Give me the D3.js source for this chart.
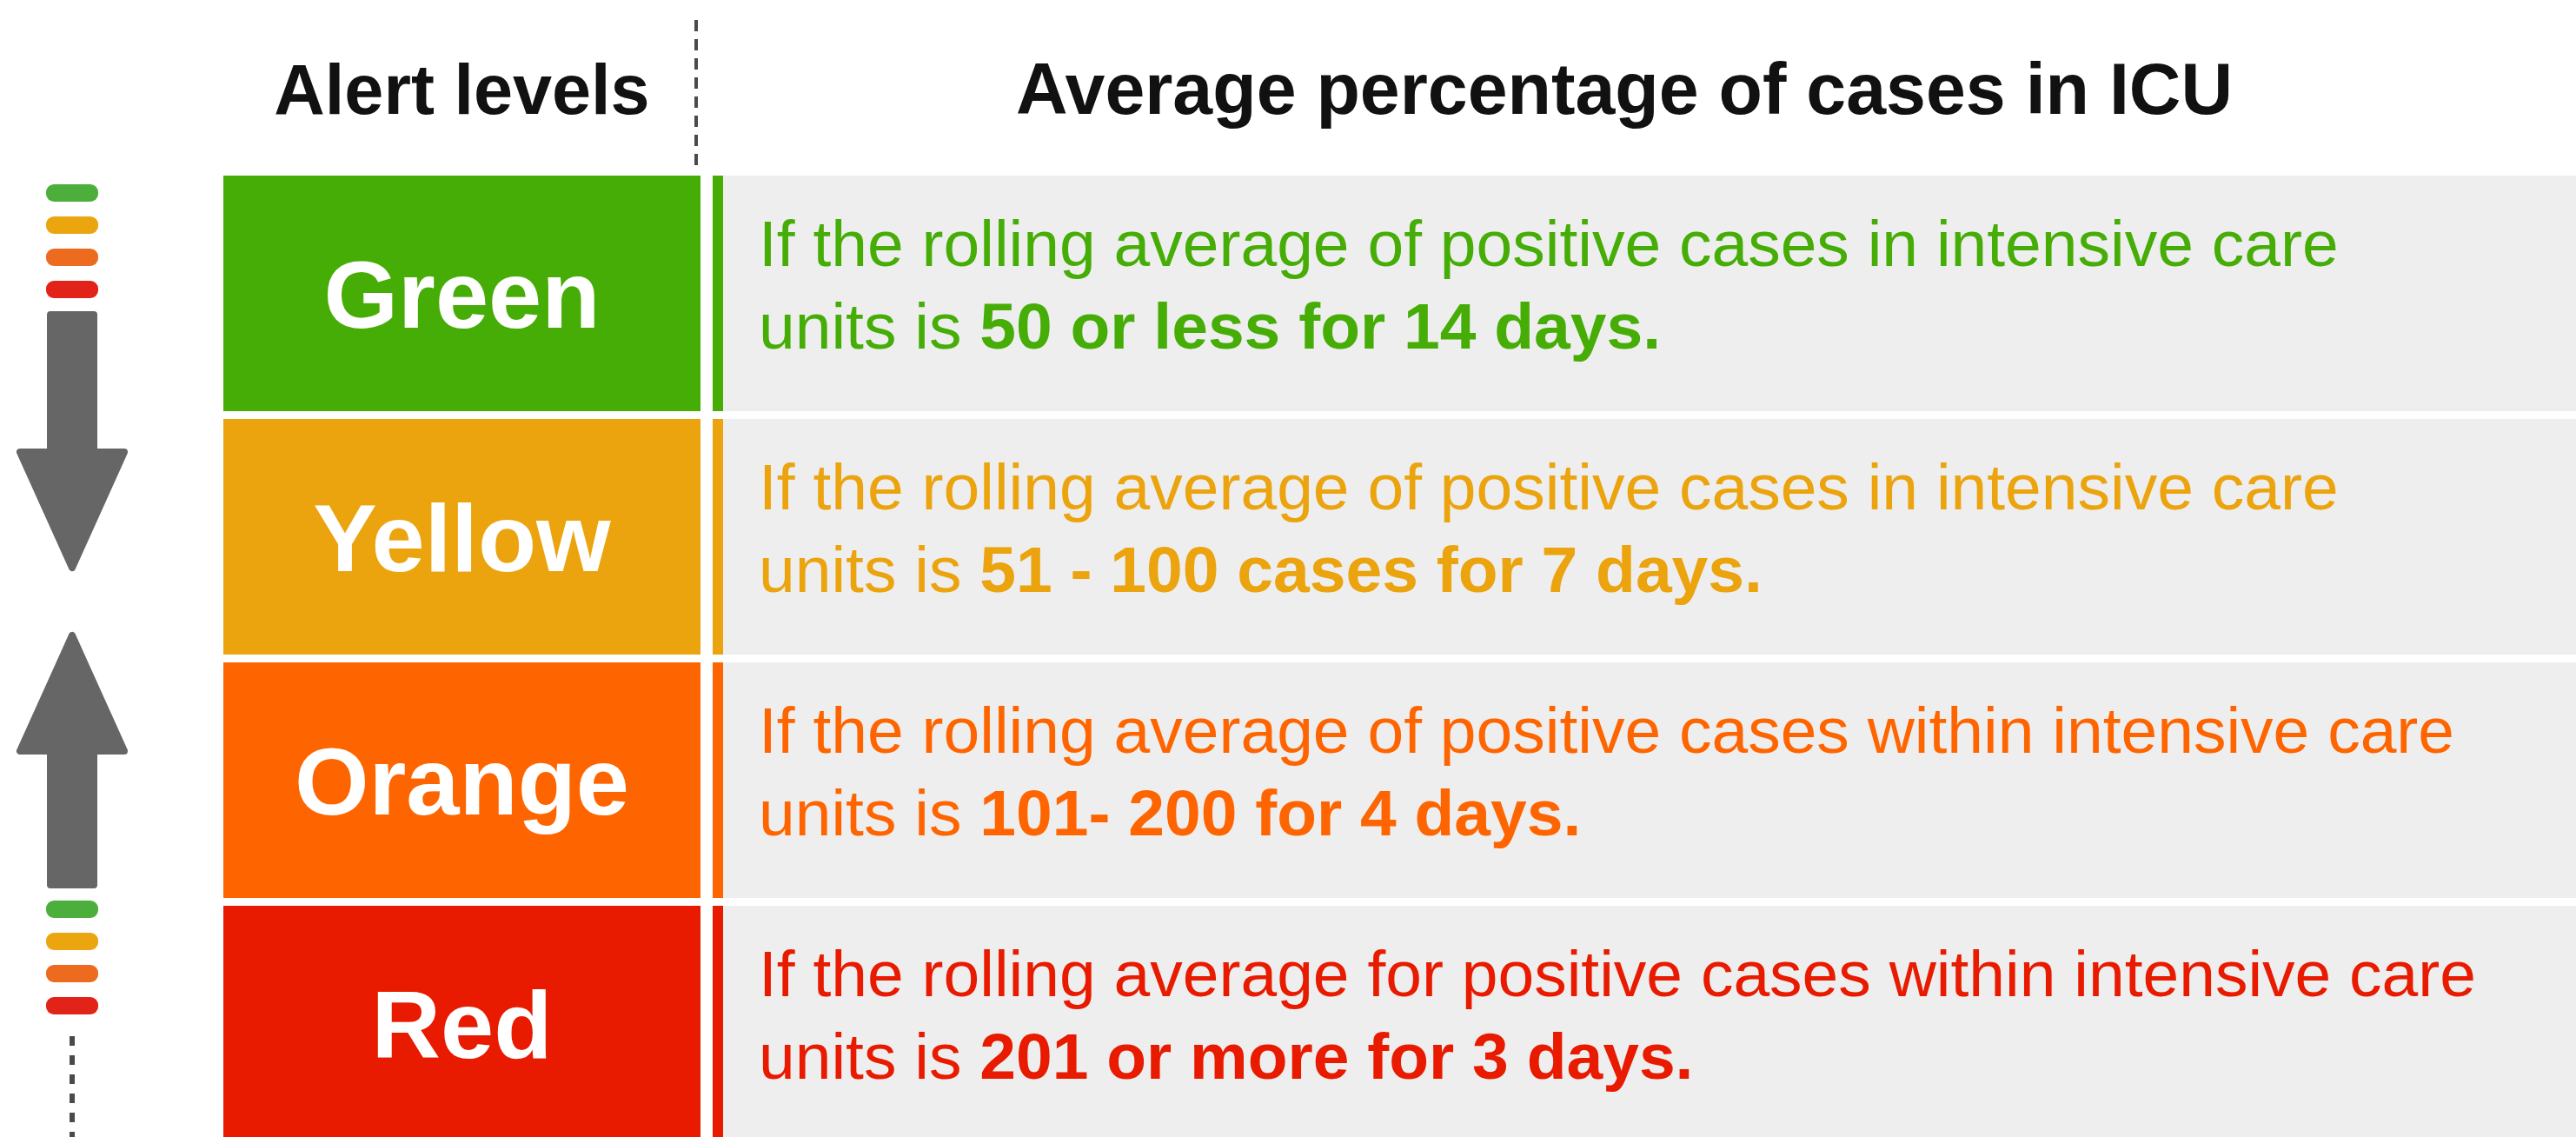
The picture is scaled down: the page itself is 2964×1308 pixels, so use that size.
<!DOCTYPE html>
<html>
<head>
<meta charset="utf-8">
<script src="https://cdn.jsdelivr.net/npm/d3@7"></script>
<style>
  html, body { margin: 0; padding: 0; background: #fff; overflow: hidden; }
  svg { display: block; font-family: "Liberation Sans", Arial, Helvetica, sans-serif; }
</style>
</head>
<body>
<div id="chart"></div>
<script>
var levels = ["Green", "Yellow", "Orange", "Red"];
var colors = ["#46ad07", "#eba30e", "#fe6500", "#e81a00"];
var iconColors = ["#4caf3c", "#eba50f", "#ec6b1f", "#e2231a"];
var line1 = [
    "If the rolling average of positive cases in intensive care",
    "If the rolling average of positive cases in intensive care",
    "If the rolling average of positive cases within intensive care",
    "If the rolling average for positive cases within intensive care"
];
var line2Plain = ["units is ", "units is ", "units is ", "units is "];
var line2Bold = [
    "50 or less for 14 days.",
    "51 - 100 cases for 7 days.",
    "101- 200 for 4 days.",
    "201 or more for 3 days."
];
var headers = ["Alert levels", "Average percentage of cases in ICU"];

var w = 2964, h = 1308;
var svg = d3.select("#chart").append("svg")
    .attr("width", w)
    .attr("height", h);

var boxX0 = 257, boxX1 = 806;
var stripeX = 820, stripeW = 12;
var greyX = 832;

var y = d3.scaleBand().domain(levels).range([202, 1313]).paddingInner(9 / 280).paddingOuter(0);

// headers
svg.append("text").attr("x", (boxX0 + boxX1) / 2).attr("y", 131)
    .attr("text-anchor", "middle").attr("font-size", 81).attr("font-weight", "bold")
    .attr("fill", "#111").text(headers[0]);
svg.append("text").attr("x", 1869).attr("y", 131)
    .attr("text-anchor", "middle").attr("font-size", 82.5).attr("font-weight", "bold")
    .attr("fill", "#111").text(headers[1]);
svg.append("line").attr("x1", 801).attr("x2", 801).attr("y1", 23).attr("y2", 194)
    .attr("stroke", "#4a4a4a").attr("stroke-width", 4).attr("stroke-dasharray", "13 9");

var rows = svg.selectAll("g.row").data(levels).enter().append("g").attr("class", "row")
    .attr("transform", function(d){ return "translate(0," + y(d) + ")"; });

rows.append("rect").attr("x", greyX).attr("y", 0).attr("width", w - greyX)
    .attr("height", y.bandwidth()).attr("fill", "#eeeeee");
rows.append("rect").attr("x", boxX0).attr("y", 0).attr("width", boxX1 - boxX0)
    .attr("height", y.bandwidth()).attr("fill", function(d,i){ return colors[i]; });
rows.append("rect").attr("x", stripeX).attr("y", 0).attr("width", stripeW)
    .attr("height", y.bandwidth()).attr("fill", function(d,i){ return colors[i]; });

rows.append("text").attr("x", (boxX0 + boxX1) / 2).attr("y", y.bandwidth() / 2 + 39)
    .attr("text-anchor", "middle").attr("font-size", 110).attr("font-weight", "bold")
    .attr("fill", "#fff").text(function(d){ return d; });

rows.append("text").attr("x", 873).attr("y", 104).attr("font-size", 75)
    .attr("fill", function(d,i){ return colors[i]; })
    .text(function(d,i){ return line1[i]; });

var l2 = rows.append("text").attr("x", 873).attr("y", 199).attr("font-size", 75)
    .attr("fill", function(d,i){ return colors[i]; });
l2.append("tspan").text(function(d,i){ return line2Plain[i]; });
l2.append("tspan").attr("font-weight", "bold").text(function(d,i){ return line2Bold[i]; });

// left icon: level bars + arrows
var cx = 83;
var topBars = [222, 259, 296, 333];
var bottomBars = [1046, 1083, 1120, 1157];
function bars(ys){
    svg.append("g").selectAll("rect").data(ys).enter().append("rect")
        .attr("x", cx - 30).attr("y", function(d){ return d - 10; })
        .attr("width", 60).attr("height", 20).attr("rx", 9)
        .attr("fill", function(d,i){ return iconColors[i]; });
}
bars(topBars);
bars(bottomBars);

function arrow(shaftEnd, headBase, tip){
    var dir = tip > headBase ? 1 : -1;
    var pts = [
        [cx - 25, shaftEnd], [cx + 25, shaftEnd], [cx + 25, headBase],
        [cx + 60, headBase], [cx, tip - dir * 4], [cx - 60, headBase], [cx - 25, headBase]
    ];
    svg.append("path").attr("d", d3.line()(pts) + "Z")
        .attr("fill", "#666").attr("stroke", "#666").attr("stroke-width", 8)
        .attr("stroke-linejoin", "round");
}
arrow(362, 520, 657);
arrow(1018, 864, 727);

svg.append("line").attr("x1", cx).attr("x2", cx).attr("y1", 1192).attr("y2", h)
    .attr("stroke", "#4a4a4a").attr("stroke-width", 6).attr("stroke-dasharray", "11 11");
</script>
</body>
</html>
